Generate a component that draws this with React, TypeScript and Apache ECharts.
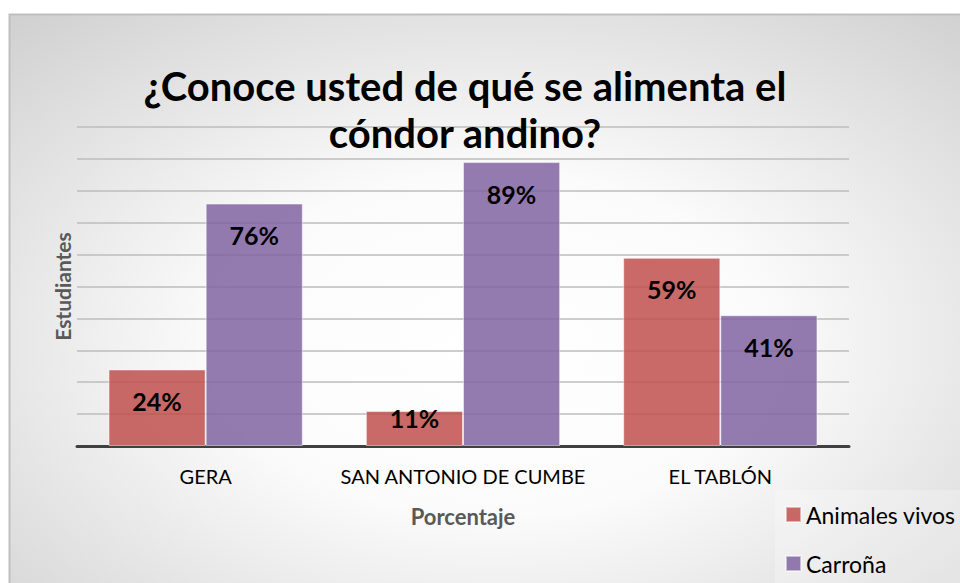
import React, { useEffect, useRef } from "react";
import * as echarts from "echarts";

const titleText = "¿Conoce usted de qué se alimenta el\ncóndor andino?";
const categories = ["GERA", "SAN ANTONIO DE CUMBE", "EL TABLÓN"];
const seriesNames = ["Animales vivos", "Carroña"];
const animalesVivos = [24, 11, 59];
const carrona = [76, 89, 41];
const yMin = 0;
const yMax = 100;
const yInterval = 10;
const xAxisName = "Porcentaje";
const yAxisName = "Estudiantes";

const FONT = "Lato, 'Noto Sans', sans-serif";

export default function App() {
  const ref = useRef<HTMLDivElement>(null);
  useEffect(() => {
    if (!ref.current) return;
    const chart = echarts.init(ref.current, null, { renderer: "svg" });
    const labelBase = {
      show: true,
      position: "insideTop",
      distance: 19,
      formatter: (p: any) => p.value + "%",
      color: "#000",
      fontWeight: "bold",
      fontSize: 25,
      fontFamily: FONT,
    };
    const mkData = (arr: number[]) =>
      arr.map((v) =>
        v < 15 ? { value: v, label: { distance: -5 } } : { value: v }
      );
    chart.setOption({
      animation: false,
      graphic: [
        {
          type: "rect",
          z: -10,
          silent: true,
          shape: { x: 9.5, y: 14.5, width: 970, height: 600 },
          style: {
            fill: new echarts.graphic.RadialGradient(0.5, 0.55, 0.95, [
              { offset: 0, color: "#ffffff" },
              { offset: 0.3, color: "#fbfbfb" },
              { offset: 1, color: "#bcbcbc" },
            ]),
            stroke: "#bfbfbf",
            lineWidth: 2,
          },
        },
        {
          type: "rect",
          z: -9,
          silent: true,
          shape: { x: 775, y: 490, width: 200, height: 100 },
          style: { fill: "rgba(255,255,255,0.25)" },
        },
      ],
      title: {
        text: titleText,
        left: 460,
        top: 57,
        textAlign: "center",
        textStyle: {
          fontFamily: FONT,
          fontWeight: "bold",
          fontSize: 40,
          lineHeight: 47,
          color: "#000",
        },
      },
      legend: {
        orient: "vertical",
        left: 785,
        top: 503,
        itemWidth: 15,
        itemHeight: 15,
        itemGap: 26,
        padding: 0,
        icon: "rect",
        data: seriesNames,
        textStyle: { fontFamily: FONT, fontSize: 23, color: "#000" },
      },
      grid: { left: 77, right: 111, top: 127, bottom: 137 },
      xAxis: {
        type: "category",
        data: categories,
        name: xAxisName,
        nameLocation: "middle",
        nameGap: 59,
        nameTextStyle: {
          fontFamily: FONT,
          fontWeight: "bold",
          fontSize: 22,
          color: "#595959",
        },
        axisLine: { lineStyle: { color: "#404040", width: 3 } },
        axisTick: { show: false },
        axisLabel: {
          interval: 0,
          margin: 20,
          fontFamily: FONT,
          fontSize: 20,
          color: "#000",
        },
      },
      yAxis: {
        type: "value",
        min: yMin,
        max: yMax,
        interval: yInterval,
        name: yAxisName,
        nameLocation: "middle",
        nameGap: 4,
        nameTextStyle: {
          fontFamily: FONT,
          fontWeight: "bold",
          fontSize: 21,
          color: "#595959",
        },
        axisLabel: { show: false },
        axisLine: { show: false },
        axisTick: { show: false },
        splitLine: { lineStyle: { color: "#bdbdbd", width: 1.5 } },
      },
      series: [
        {
          name: seriesNames[0],
          type: "bar",
          data: mkData(animalesVivos),
          barGap: "0%",
          barCategoryGap: "24.5%",
          itemStyle: {
            color: "rgba(192,80,77,0.85)",
            borderColor: "rgba(255,255,255,0.5)",
            borderWidth: 1,
          },
          label: labelBase,
        },
        {
          name: seriesNames[1],
          type: "bar",
          data: mkData(carrona),
          barGap: "0%",
          barCategoryGap: "24.5%",
          itemStyle: {
            color: "rgba(128,100,162,0.85)",
            borderColor: "rgba(255,255,255,0.5)",
            borderWidth: 1,
          },
          label: labelBase,
        },
      ],
    });
    return () => chart.dispose();
  }, []);
  return (
    <div
      ref={ref}
      style={{ position: "absolute", left: 0, top: 0, width: 960, height: 583 }}
    />
  );
}
